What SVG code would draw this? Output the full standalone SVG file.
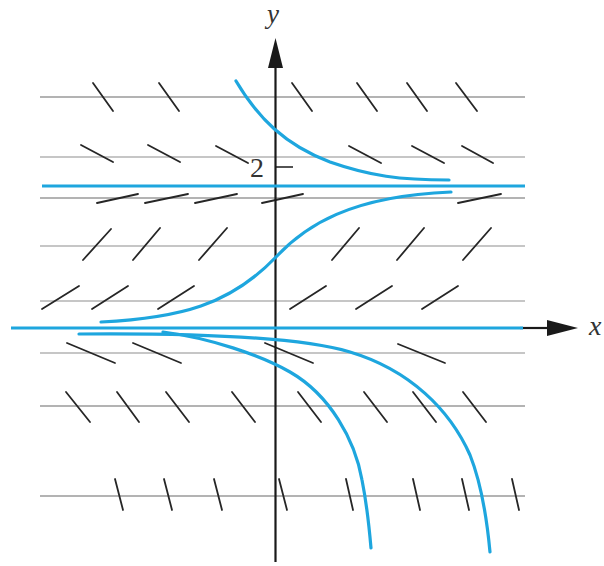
<svg xmlns="http://www.w3.org/2000/svg" width="604" height="566" viewBox="0 0 604 566">
<style>
.grid{stroke:#b3b3b3;stroke-width:1.8;fill:none}
.mark{stroke:#262626;stroke-width:1.8;fill:none;stroke-linecap:round}
.axis{stroke:#1a1a1a;stroke-width:2.2;fill:none}
.head{fill:#1a1a1a}
.sol{stroke:#1ea6de;stroke-width:3.2;fill:none;stroke-linecap:round}
.lbl{font-family:"Liberation Serif","Times New Roman",serif;fill:#333}
</style>
<rect width="604" height="566" fill="#fff"/>
<g id="grid">
<line class="grid" x1="40" y1="97" x2="525" y2="97"/>
<line class="grid" x1="40" y1="157" x2="525" y2="157" style="stroke-width:1.3"/>
<line class="grid" x1="40" y1="198" x2="525" y2="198"/>
<line class="grid" x1="40" y1="246" x2="525" y2="246" style="stroke-width:1.3"/>
<line class="grid" x1="40" y1="301" x2="525" y2="301" style="stroke-width:1.3"/>
<line class="grid" x1="40" y1="353" x2="525" y2="353" style="stroke-width:1.3"/>
<line class="grid" x1="40" y1="406" x2="525" y2="406"/>
<line class="grid" x1="40" y1="496" x2="525" y2="496"/>
</g>
<g id="slope-marks">
<line class="mark" x1="93" y1="83" x2="113" y2="111"/>
<line class="mark" x1="159" y1="83" x2="179" y2="111"/>
<line class="mark" x1="292" y1="83" x2="312" y2="111"/>
<line class="mark" x1="357" y1="83" x2="377" y2="111"/>
<line class="mark" x1="407" y1="83" x2="427" y2="111"/>
<line class="mark" x1="456" y1="83" x2="477" y2="111"/>

<line class="mark" x1="81" y1="145" x2="113" y2="162"/>
<line class="mark" x1="148" y1="145" x2="180" y2="162"/>
<line class="mark" x1="216" y1="146" x2="248" y2="163"/>
<line class="mark" x1="349" y1="146" x2="381" y2="163"/>
<line class="mark" x1="412" y1="146" x2="444" y2="163"/>
<line class="mark" x1="462" y1="146" x2="493" y2="163"/>

<line class="mark" x1="97" y1="203" x2="138" y2="194"/>
<line class="mark" x1="145" y1="203" x2="188" y2="194"/>
<line class="mark" x1="195" y1="203" x2="237" y2="194"/>
<line class="mark" x1="262" y1="203" x2="303" y2="194"/>
<line class="mark" x1="458" y1="203" x2="501" y2="194"/>

<line class="mark" x1="83" y1="260" x2="111" y2="229"/>
<line class="mark" x1="133" y1="260" x2="160" y2="228"/>
<line class="mark" x1="199" y1="260" x2="227" y2="228"/>
<line class="mark" x1="332" y1="260" x2="359" y2="228"/>
<line class="mark" x1="397" y1="260" x2="424" y2="228"/>
<line class="mark" x1="463" y1="260" x2="491" y2="228"/>

<line class="mark" x1="42" y1="309" x2="79" y2="286"/>
<line class="mark" x1="92" y1="309" x2="128" y2="286"/>
<line class="mark" x1="158" y1="309" x2="194" y2="286"/>
<line class="mark" x1="290" y1="309" x2="326" y2="286"/>
<line class="mark" x1="356" y1="309" x2="392" y2="286"/>
<line class="mark" x1="422" y1="309" x2="458" y2="286"/>

<line class="mark" x1="67" y1="343" x2="115" y2="363"/>
<line class="mark" x1="133" y1="343" x2="181" y2="363"/>
<line class="mark" x1="265" y1="343" x2="313" y2="363"/>
<line class="mark" x1="398" y1="344" x2="445" y2="363"/>

<line class="mark" x1="66" y1="392" x2="90" y2="422"/>
<line class="mark" x1="117" y1="392" x2="139" y2="422"/>
<line class="mark" x1="166" y1="392" x2="189" y2="422"/>
<line class="mark" x1="232" y1="392" x2="255" y2="422"/>
<line class="mark" x1="298" y1="392" x2="321" y2="422"/>
<line class="mark" x1="364" y1="392" x2="387" y2="422"/>
<line class="mark" x1="413" y1="392" x2="436" y2="422"/>
<line class="mark" x1="463" y1="392" x2="486" y2="422"/>

<line class="mark" x1="115" y1="479" x2="123" y2="510"/>
<line class="mark" x1="164" y1="479" x2="172" y2="510"/>
<line class="mark" x1="214" y1="479" x2="222" y2="510"/>
<line class="mark" x1="279" y1="479" x2="287" y2="510"/>
<line class="mark" x1="346" y1="479" x2="353" y2="510"/>
<line class="mark" x1="413" y1="479" x2="420" y2="510"/>
<line class="mark" x1="462" y1="479" x2="469" y2="510"/>
<line class="mark" x1="512" y1="479" x2="519" y2="510"/>
</g>
<g id="axes">
<line class="axis" x1="275.5" y1="66" x2="275.5" y2="562"/>
<polygon class="head" points="275.5,38 268,68 283,68"/>
<line class="axis" x1="520" y1="328" x2="550" y2="328"/>
<polygon class="head" points="578,328 547,320 547,336"/>
<line class="axis" x1="276" y1="167" x2="293" y2="167" style="stroke-width:1.5"/>
<text class="lbl" x="273" y="23" font-size="27" font-style="italic" text-anchor="middle">y</text>
<text class="lbl" x="589" y="335" font-size="28" font-style="italic">x</text>
<text class="lbl" x="264" y="177" font-size="28" text-anchor="end">2</text>
</g>
<g id="solutions">
<line class="sol" x1="42" y1="186" x2="525" y2="186" style="stroke-linecap:butt"/>
<line class="sol" x1="11" y1="328" x2="523" y2="328" style="stroke-linecap:butt"/>
<path class="sol" d="M236,81 C258,118 285,145 330,162 C370,176 400,180 449,180"/>
<path class="sol" d="M101,322 C180,318 230,305 276,257 C305,226 350,196 451,192"/>
<path class="sol" d="M79,334 C200,333 300,337 350,352 C410,370 450,410 470,455 C482,485 487,520 490,552"/>
<path class="sol" d="M163,332 C210,338 260,355 290,372 C330,395 355,440 362,480 C367,505 369,525 371,548"/>
</g>
</svg>
